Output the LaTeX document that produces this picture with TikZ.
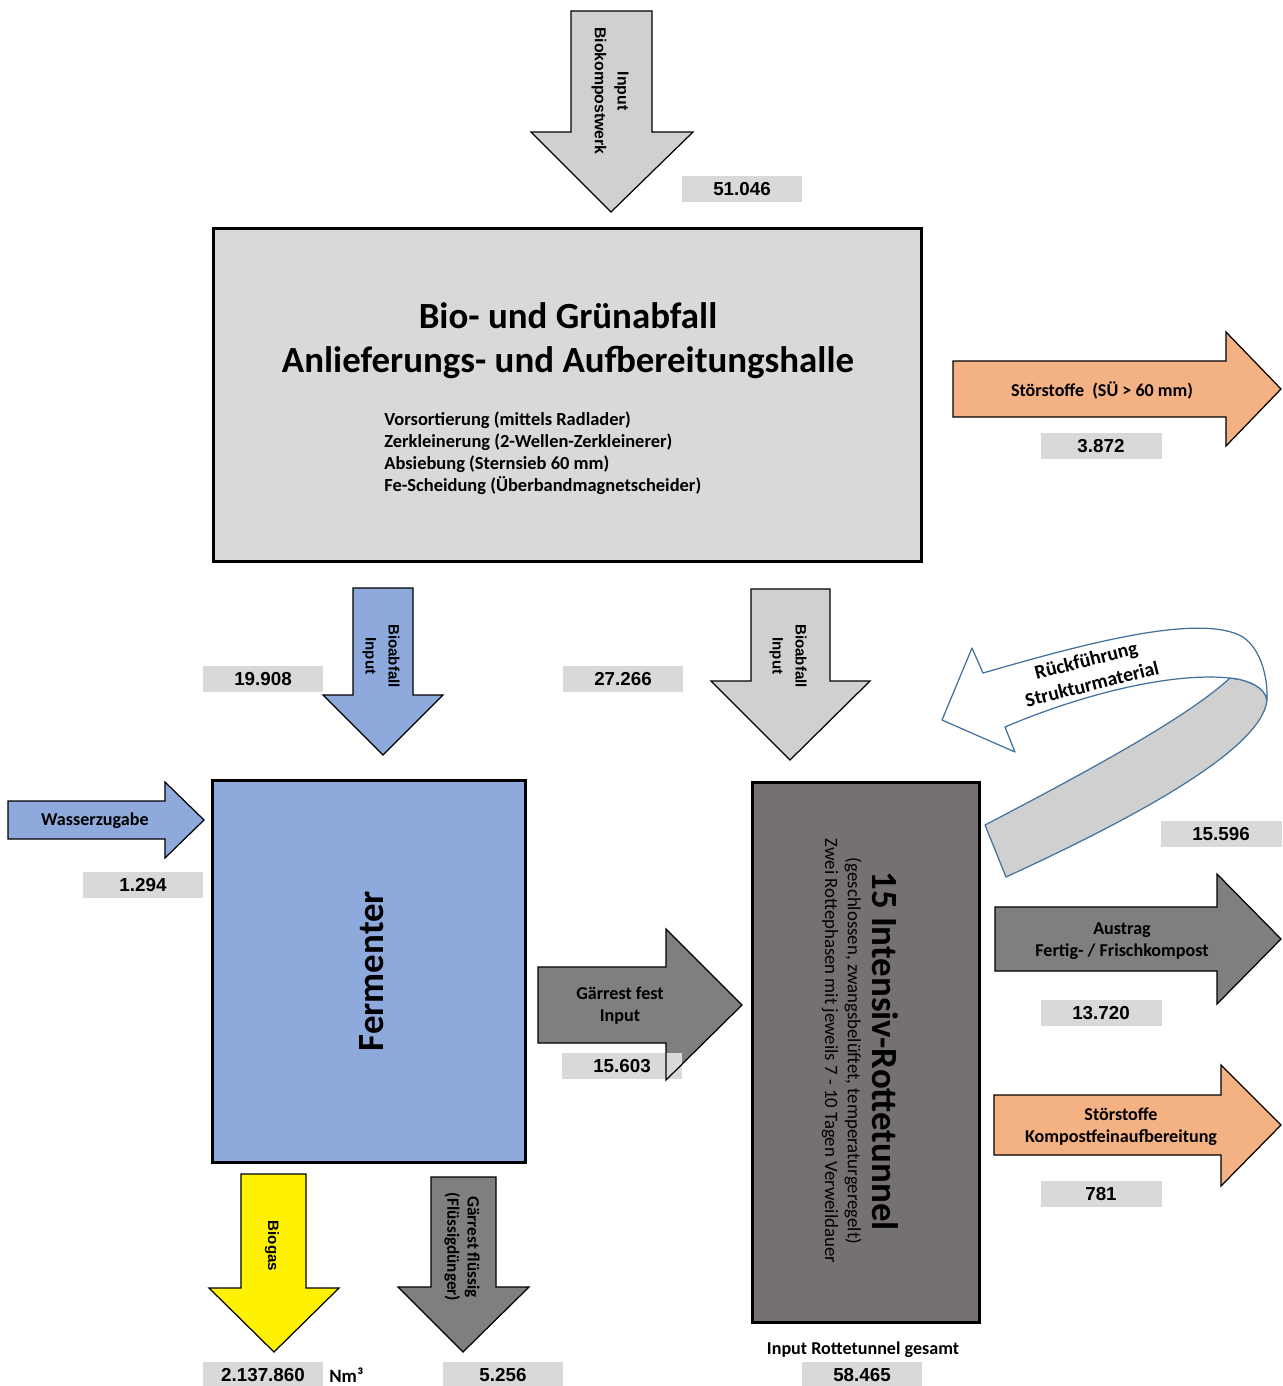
\documentclass[tikz,border=0pt]{standalone}
\usepackage{fontspec}
\setmainfont{Carlito}
\newfontfamily\numfont{Liberation Sans}
\usetikzlibrary{positioning}
\definecolor{cgrey}{HTML}{D0D0D0}
\definecolor{cbox}{HTML}{D9D9D9}
\definecolor{cblue}{HTML}{8EA9DB}
\definecolor{corange}{HTML}{F4B183}
\definecolor{cdark}{HTML}{7F7F7F}
\definecolor{ctunnel}{HTML}{757171}
\definecolor{cribbon}{HTML}{41719C}
\tikzset{
  blk/.style={draw=black,line width=0.7pt,line join=miter},
  hall/.style={rectangle,draw=black,line width=1.7pt,inner sep=0pt},
  numbox/.style={rectangle,fill=cbox,draw=none,minimum width=2.42cm,
    minimum height=0.53cm,inner sep=0pt,
    font=\numfont\bfseries\fontsize{10.7}{12}\selectfont},
  lab/.style={font=\bfseries\fontsize{10.3}{12.5}\selectfont,align=center,
    inner sep=0pt},
  vlab/.style={font=\numfont\bfseries\fontsize{8.6}{13}\selectfont,
    align=center,inner sep=0pt,rotate=-90},
  % Rueckfuehrung ribbon
  ribbon/.style={draw=cribbon,line width=0.7pt,line join=round}
}
\begin{document}
\begin{tikzpicture}[x=0.02cm,y=-0.02cm]
  \useasboundingbox (0,0) rectangle (1282,1386);
  % input from the top
  \draw[blk,fill=cgrey] (571,11) -- (652,11) -- (652,132) -- (693,132)
    -- (611,212) -- (531,132) -- (571,132) -- cycle;
  \node[vlab,font=\numfont\bfseries\fontsize{9}{13}\selectfont]
    (inbkw) at (610,91) {Input\\Biokompostwerk};
  \node[numbox] (n51) at (742,189) {51.046};
  % hall
  \node[hall,fill=cbox,minimum width=14.18cm,minimum height=6.68cm]
    (hall) at (567.5,395) {};
  \node[font=\bfseries\fontsize{21}{25}\selectfont,align=center,inner sep=0pt]
    (halltitle) at (568,341) {Bio- und Grünabfall\\Anlieferungs- und Aufbereitungshalle};
  \node[font=\bfseries\fontsize{10.5}{12.5}\selectfont,align=left,anchor=west,
    inner sep=0pt] (hallsteps) at (384,453)
    {Vorsortierung (mittels Radlader)\\Zerkleinerung (2-Wellen-Zerkleinerer)\\
     Absiebung (Sternsieb 60 mm)\\Fe-Scheidung (Überbandmagnetscheider)};
  % stoerstoffe hall
  \draw[blk,fill=corange] (953,361) -- (1226,361) -- (1226,332) -- (1281,389)
    -- (1226,446) -- (1226,417) -- (953,417) -- cycle;
  \node[lab] (stoer1) at (1102,390) {Störstoffe\ \ (SÜ > 60 mm)};
  \node[numbox] (n3872) at (1101,446) {3.872};
  % bioabfall to fermenter and tunnel
  \draw[blk,fill=cblue] (353,588) -- (413,588) -- (413,695) -- (443,695)
    -- (383,755) -- (323,695) -- (353,695) -- cycle;
  \node[vlab] (bioferm) at (381,656) {Bioabfall\\Input};
  \node[numbox] (n19908) at (263,679) {19.908};
  \draw[blk,fill=cgrey] (751,589) -- (830,589) -- (830,681) -- (870,681)
    -- (790,760) -- (711,681) -- (751,681) -- cycle;
  \node[vlab] (biotun) at (788,656) {Bioabfall\\Input};
  \node[numbox] (n27266) at (623,679) {27.266};
  % fermenter
  \draw[blk,fill=cblue] (8,801) -- (165,801) -- (165,782) -- (204,820)
    -- (165,858) -- (165,839) -- (8,839) -- cycle;
  \node[lab] (wasser) at (95,821) {Wasserzugabe};
  \node[numbox] (n1294) at (143,885) {1.294};
  \node[hall,fill=cblue,minimum width=6.28cm,minimum height=7.66cm]
    (ferm) at (369,971.5) {};
  \node[font=\bfseries\fontsize{21}{24}\selectfont,rotate=90,inner sep=0pt]
    (fermlab) at (372,971) {Fermenter};
  \fill[cdark] (538,967) -- (666,967) -- (666,929) -- (742,1005)
    -- (666,1080) -- (666,1043) -- (538,1043) -- cycle;
  \node[numbox] (n15603) at (622,1066) {15.603};
  \draw[blk] (538,967) -- (666,967) -- (666,929) -- (742,1005)
    -- (666,1080) -- (666,1043) -- (538,1043) -- cycle;
  \node[lab] (gfest) at (620,1006) {Gärrest fest\\Input};
  \draw[blk,fill=yellow] (241,1174) -- (306,1174) -- (306,1288) -- (339,1288)
    -- (274,1352) -- (209,1288) -- (241,1288) -- cycle;
  \node[vlab] (biogas) at (272,1246) {Biogas};
  \node[numbox] (nbiogas) at (263,1375) {2.137.860};
  \node[font=\bfseries\fontsize{10.7}{12}\selectfont,anchor=west,inner sep=0pt]
    (nm) at (329,1375) {Nm³};
  \draw[blk,fill=cdark] (431,1177) -- (496,1177) -- (496,1287) -- (529,1287)
    -- (463,1352) -- (398,1287) -- (431,1287) -- cycle;
  \node[font=\bfseries\fontsize{9.8}{11.5}\selectfont,align=center,inner sep=0pt,
    rotate=-90] (gfl) at (462,1247) {Gärrest flüssig\\(Flüssigdünger)};
  \node[numbox] (n5256) at (503,1375) {5.256};
  % rottetunnel
  \node[hall,fill=ctunnel,minimum width=4.56cm,minimum height=10.82cm]
    (tunnel) at (866,1052.5) {};
  \node[font=\bfseries\fontsize{21}{24}\selectfont,rotate=-90,inner sep=0pt]
    (tuntitle) at (885,1051) {15 Intensiv-Rottetunnel};
  \node[font=\fontsize{10.7}{12}\selectfont,rotate=-90,inner sep=0pt]
    (tunsub1) at (853,1051) {(geschlossen, zwangsbelüftet, temperaturgeregelt)};
  \node[font=\fontsize{10.7}{12}\selectfont,rotate=-90,inner sep=0pt]
    (tunsub2) at (830,1051) {Zwei Rottephasen mit jeweils 7 - 10 Tagen Verweildauer};
  \node[lab] (tunin) at (863,1350) {Input Rottetunnel gesamt};
  \node[numbox] (n58465) at (862,1375) {58.465};
  % rueckfuehrung
  \draw[ribbon,fill=cgrey] (985,825) .. controls (1100,765) and (1190,715) .. (1230,678)
    .. controls (1250,680) and (1265,688) .. (1267,700)
    .. controls (1262,750) and (1130,820) .. (1006,877) -- cycle;
  \draw[ribbon,fill=white] (942,720) -- (972,648) -- (983,673)
    .. controls (1080,645) and (1200,612) .. (1243,637)
    .. controls (1262,650) and (1268,680) .. (1267,700)
    .. controls (1265,688) and (1250,680) .. (1230,678)
    .. controls (1170,672) and (1080,695) .. (1005,727) -- (1015,752) -- cycle;
  \node[font=\bfseries\fontsize{11.3}{14}\selectfont,align=center,inner sep=0pt,
    rotate=14] (rueck) at (1089,672) {Rückführung\\Strukturmaterial};
  \node[numbox] (n15596) at (1221,834) {15.596};
  % outputs tunnel
  \draw[blk,fill=cdark] (995,907) -- (1217,907) -- (1217,874) -- (1281,939)
    -- (1217,1004) -- (1217,971) -- (995,971) -- cycle;
  \node[lab] (austrag) at (1122,941) {Austrag\\Fertig- / Frischkompost};
  \node[numbox] (n13720) at (1101,1013) {13.720};
  \draw[blk,fill=corange] (994,1095) -- (1221,1095) -- (1221,1065) -- (1281,1125)
    -- (1221,1186) -- (1221,1155) -- (994,1155) -- cycle;
  \node[lab] (stoer2) at (1121,1127) {Störstoffe\\Kompostfeinaufbereitung};
  \node[numbox] (n781) at (1101,1194) {781};
\end{tikzpicture}
\end{document}
